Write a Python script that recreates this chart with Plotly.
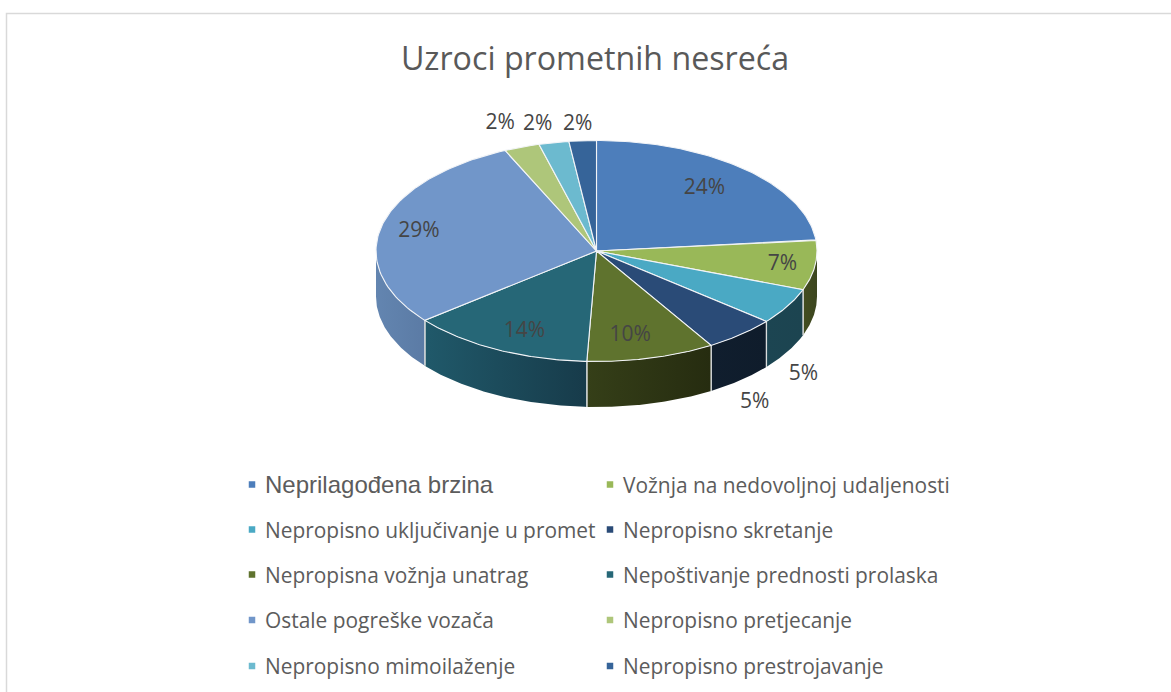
import math
import numpy as np
import plotly.graph_objects as go

TITLE = "Uzroci prometnih nesreća"
categories = ["Neprilagođena brzina", "Vožnja na nedovoljnoj udaljenosti",
              "Nepropisno uključivanje u promet", "Nepropisno skretanje",
              "Nepropisna vožnja unatrag", "Nepoštivanje prednosti prolaska",
              "Ostale pogreške vozača", "Nepropisno pretjecanje",
              "Nepropisno mimoilaženje", "Nepropisno prestrojavanje"]
shares = [23.4, 7.3, 5.3, 5.3, 9.4, 13.5, 29.0, 2.6, 2.2, 2.0]
printed = ["24%", "7%", "5%", "5%", "10%", "14%", "29%", "2%", "2%", "2%"]

top_colors = ["#4D7EBB", "#99B858", "#4AA9C4", "#2A4B77", "#5F732E",
              "#266777", "#7196C9", "#AEC67A", "#6CBACF", "#366499"]
side_colors = [None, ("#434D1F", "#3C4620"), ("#1C4552", "#1C4450"),
               ("#101E2E", "#0F1C2B"), ("#353F18", "#262C10"),
               ("#20596A", "#173B4A"), ("#6385B0", "#5B7BA5"), None, None, None]

# layout (pixel) constants
W, H = 1171, 692
CX, CY, RX, RY, DEPTH = 596.5, 251.0, 220.5, 110.5, 45.5
label_rx = [0.73, 0.85, 1.085, 1.096, 0.615, 0.724, 0.828, 1.29, 1.38, 1.36]
label_ry = [0.79, 0.84, 1.08, 1.096, 0.775, 0.80, 0.854, 1.245, 1.185, 1.165]
label_dy = [2, 2, 64, 60, 2, 2, 2, 2, 2, 2]
LEG_X = [252, 610]
LEG_Y = [484.5, 529.5, 574.5, 620, 666]

total = sum(shares)
edges = np.cumsum([0] + shares) / total * 2 * math.pi


def rim(a, b, n=80):
    t = np.linspace(a, b, n)
    return CX + RX * np.sin(t), CY - RY * np.cos(t)


fig = go.Figure()

# side walls, only the front half of the rim is visible
for i, pair in enumerate(side_colors):
    if pair is None:
        continue
    a, b = edges[i], edges[i + 1]
    lo, hi = max(a, math.pi / 2), min(b, 3 * math.pi / 2)
    x, y = rim(lo, hi)
    px = list(x) + list(x[::-1]) + [x[0]]
    py = list(y) + list((y + DEPTH)[::-1]) + [y[0]]
    fig.add_trace(go.Scatter(
        x=px, y=py, mode="lines", fill="toself",
        line=dict(color="rgba(0,0,0,0)", width=0),
        fillgradient=dict(type="horizontal",
                          colorscale=[[0, pair[0]], [1, pair[1]]]),
        hoverinfo="skip", showlegend=False))
    # pale vertical seam at each wall end
    for t in {lo, hi}:
        if t in (a, b) and 0.5 * math.pi <= t <= 1.5 * math.pi:
            sx = CX + RX * math.sin(t)
            sy = CY - RY * math.cos(t)
            fig.add_trace(go.Scatter(
                x=[sx, sx], y=[sy, sy + DEPTH], mode="lines",
                line=dict(color="#D9DCDC", width=1.3),
                hoverinfo="skip", showlegend=False))

# top face wedges
for i, c in enumerate(top_colors):
    x, y = rim(edges[i], edges[i + 1])
    fig.add_trace(go.Scatter(
        x=[CX] + list(x) + [CX], y=[CY] + list(y) + [CY],
        mode="lines", fill="toself", fillcolor=c,
        line=dict(color="#F2F4F7", width=1.1),
        name=categories[i], text=[printed[i]] * (len(x) + 2),
        hovertemplate="%{fullData.name}: %{text}<extra></extra>",
        showlegend=False))

# percentage labels
mids = (edges[:-1] + edges[1:]) / 2
lx = [CX + RX * rx * math.sin(m) for rx, m in zip(label_rx, mids)]
ly = [CY - RY * ry * math.cos(m) + d for ry, m, d in zip(label_ry, mids, label_dy)]
fig.add_trace(go.Scatter(
    x=lx, y=ly, mode="text", text=printed, textposition="middle center",
    textfont=dict(family="Open Sans", size=21, color="#454545"),
    hoverinfo="skip", showlegend=False))

# legend grid
mx, my = [], []
annotations = []
for i, name in enumerate(categories):
    col, row = i % 2, i // 2
    mx.append(LEG_X[col])
    my.append(LEG_Y[row])
    family = "Liberation Sans" if i == 0 else "Open Sans"
    size = 24 if i == 0 else 20.9
    annotations.append(dict(
        x=LEG_X[col] + 11, y=LEG_Y[row], xref="x", yref="y", text=name,
        showarrow=False, xanchor="left", yanchor="middle", xshift=0,
        font=dict(family=family, size=size, color="#5C5C5C")))
fig.add_trace(go.Scatter(
    x=mx, y=my, mode="markers",
    marker=dict(symbol="square", size=6.5, color=top_colors),
    hoverinfo="skip", showlegend=False))

fig.update_layout(
    width=W, height=H, margin=dict(l=0, r=0, t=0, b=0),
    paper_bgcolor="white", plot_bgcolor="white", showlegend=False,
    title=dict(text=TITLE, x=595 / W, xanchor="center", y=1 - 59 / H,
               yanchor="middle",
               font=dict(family="Open Sans", size=32.2, color="#595959")),
    xaxis=dict(range=[0, W], visible=False, fixedrange=True),
    yaxis=dict(range=[H, 0], visible=False, fixedrange=True),
    annotations=annotations,
    shapes=[dict(type="rect", xref="x", yref="y", x0=6.5, y0=13.5, x1=W + 10, y1=H + 10,
                 line=dict(color="#D9D9D9", width=1.5), layer="below")],
)

fig.write_html("out.html", config={"displayModeBar": False},
               post_script="document.body.style.margin='0';")
